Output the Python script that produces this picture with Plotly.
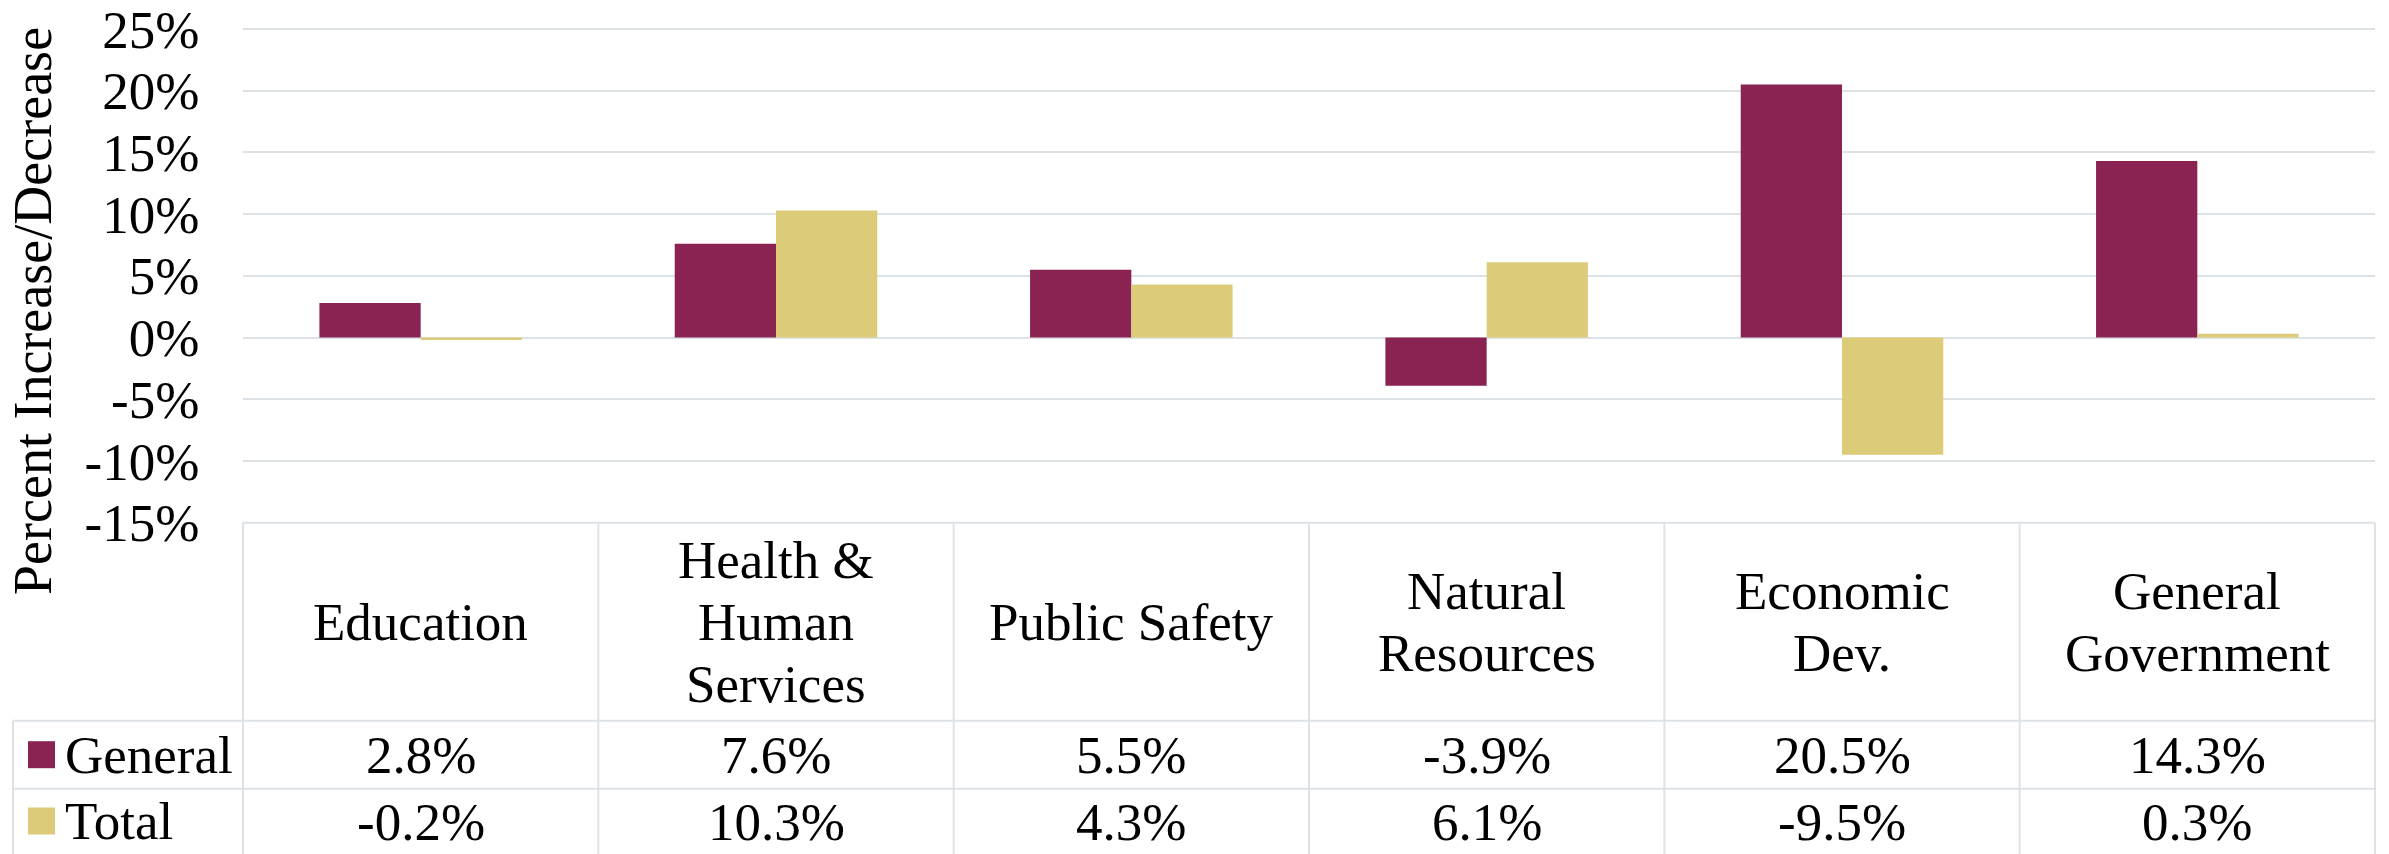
import plotly.graph_objects as go

# ---- data ----
categories = [
    ["Education"],
    ["Health &", "Human", "Services"],
    ["Public Safety"],
    ["Natural", "Resources"],
    ["Economic", "Dev."],
    ["General", "Government"],
]
general = [2.8, 7.6, 5.5, -3.9, 20.5, 14.3]
total = [-0.2, 10.3, 4.3, 6.1, -9.5, 0.3]
series_names = ["General", "Total"]
y_ticks = [-15, -10, -5, 0, 5, 10, 15, 20, 25]
y_title = "Percent Increase/Decrease"

# ---- style ----
W, H = 2389, 854
FONT = "Liberation Serif, Times New Roman, serif"
FS = 53
C_GEN = "#8A2252"
C_TOT = "#DCCB79"
GRID = "#DDE2E7"

X0, X1 = 243, 2375          # plot / table horizontal extent (px)
Y_TOP, Y_BOT = 29, 522.7    # 25% line and -15% line (px)
Y_HDR = 720.7               # header / General boundary
Y_ROW = 788.7               # General / Total boundary
Y_END = 870
LEG_X = 13


def px(x):
    return x / W


def py(y):
    return 1 - y / H


cat_keys = [" ".join(c) for c in categories]

fig = go.Figure()
fig.add_trace(go.Bar(x=cat_keys, y=general, name=series_names[0],
                     marker=dict(color=C_GEN, line=dict(width=0))))
fig.add_trace(go.Bar(x=cat_keys, y=total, name=series_names[1],
                     marker=dict(color=C_TOT, line=dict(width=0))))

shapes = []
annotations = []


def hline(y, xa, xb):
    shapes.append(dict(type="line", xref="paper", yref="paper",
                       x0=px(xa), x1=px(xb), y0=py(y), y1=py(y),
                       line=dict(color=GRID, width=2), layer="below"))


def vline(x, ya, yb):
    shapes.append(dict(type="line", xref="paper", yref="paper",
                       x0=px(x), x1=px(x), y0=py(ya), y1=py(yb),
                       line=dict(color=GRID, width=2)))


n = len(categories)
cw = (X1 - X0) / n
hline(Y_TOP, X0, X1)        # top gridline (plotly omits gridlines at the domain edge)
hline(Y_BOT, X0, X1)
hline(Y_HDR, LEG_X, X1)
hline(Y_ROW, LEG_X, X1)
vline(LEG_X, Y_HDR, Y_END)
for k in range(n + 1):
    vline(X0 + k * cw, Y_BOT, Y_END)

LINE_H = 62
hdr_c = (Y_BOT + Y_HDR) / 2
gen_c = (Y_HDR + Y_ROW) / 2
tot_c = 822
for k, lines in enumerate(categories):
    cx = X0 + (k + 0.5) * cw
    m = len(lines)
    for j, t in enumerate(lines):
        cy = hdr_c + (j - (m - 1) / 2) * LINE_H
        annotations.append(dict(x=px(cx), y=py(cy), xref="paper", yref="paper",
                                text=t, showarrow=False, xanchor="center", yanchor="middle",
                                font=dict(family=FONT, size=FS, color="black")))
    for vals, cy in ((general, gen_c), (total, tot_c)):
        annotations.append(dict(x=px(cx), y=py(cy), xref="paper", yref="paper",
                                text=f"{vals[k]:.1f}%", showarrow=False,
                                xanchor="center", yanchor="middle",
                                font=dict(family=FONT, size=FS, color="black")))

# legend keys in table
for name, col, cy in ((series_names[0], C_GEN, gen_c), (series_names[1], C_TOT, tot_c - 1)):
    shapes.append(dict(type="rect", xref="paper", yref="paper",
                       x0=px(28), x1=px(55), y0=py(cy - 13.5), y1=py(cy + 13.5),
                       fillcolor=col, line=dict(width=0)))
    annotations.append(dict(x=px(63), y=py(cy), xref="paper", yref="paper",
                            text=name, showarrow=False, xanchor="left", yanchor="middle",
                            font=dict(family=FONT, size=FS, color="black")))

# y-axis title
annotations.append(dict(x=px(33), y=py(311), xref="paper", yref="paper",
                        text=y_title, showarrow=False, textangle=-90,
                        xanchor="center", yanchor="middle",
                        font=dict(family=FONT, size=54, color="black")))

fig.update_layout(
    template="none",
    width=W, height=H,
    margin=dict(l=0, r=0, t=0, b=0),
    paper_bgcolor="white", plot_bgcolor="white",
    barmode="group", bargap=0.43, bargroupgap=0,
    showlegend=False,
    shapes=shapes, annotations=annotations,
    xaxis=dict(domain=[px(X0), px(X1)], type="category", range=[-0.5, n - 0.5],
               showticklabels=False, showgrid=False, zeroline=False, showline=False,
               ticks="", automargin=False, fixedrange=True),
    yaxis=dict(domain=[py(Y_BOT), py(Y_TOP)], range=[-15, 25],
               tickvals=y_ticks, ticktext=[f"{v}%" for v in y_ticks],
               tickfont=dict(family=FONT, size=FS, color="black"),
               showgrid=True, gridcolor=GRID, gridwidth=2,
               zeroline=False, showline=False, ticks="outside", ticklen=32,
               tickcolor="rgba(0,0,0,0)", automargin=False, fixedrange=True),
)

fig.write_html("out.html",
               config={"displayModeBar": False, "staticPlot": True},
               post_script="document.body.style.margin='0';document.body.style.overflow='hidden';")
